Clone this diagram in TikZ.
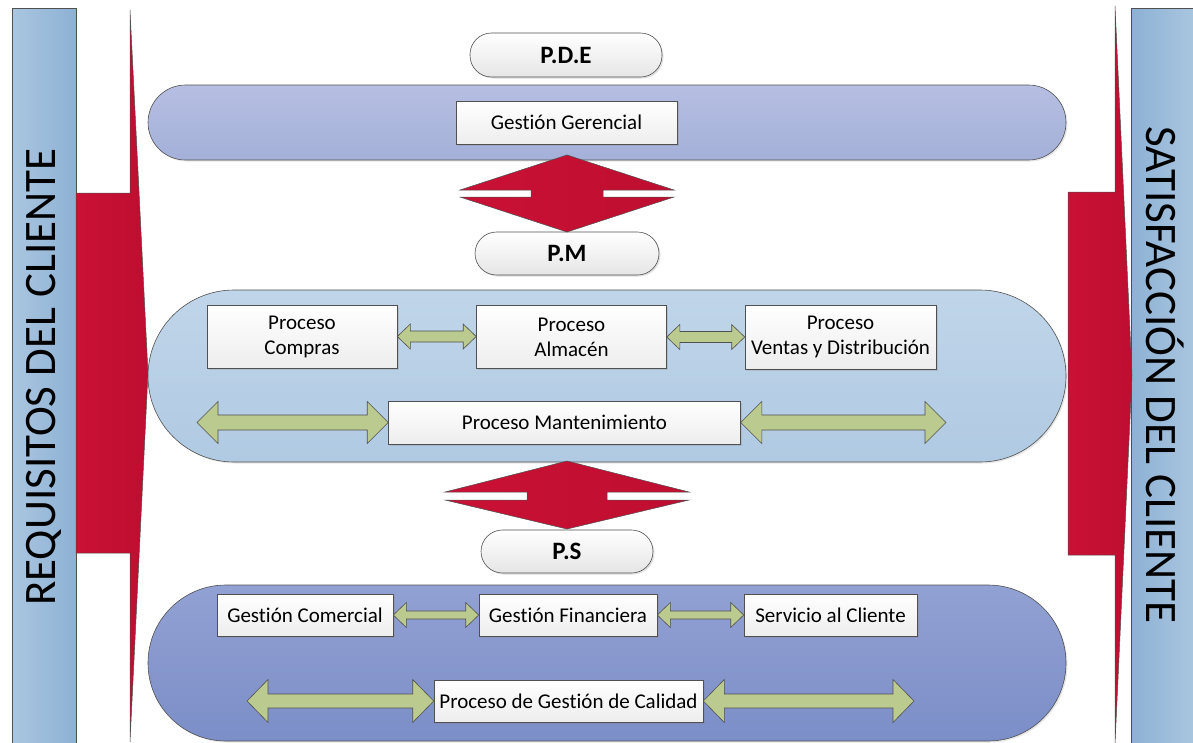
\documentclass[tikz,border=0pt]{standalone}
\usepackage{fontspec}
\setmainfont[Ligatures=NoCommon]{Carlito}
\usetikzlibrary{shadows,calc}
\definecolor{crim}{RGB}{201,17,53}
\definecolor{crimd}{RGB}{190,14,48}
\definecolor{edge}{RGB}{80,80,80}
\definecolor{gfill}{RGB}{187,202,143}
\definecolor{bandAt}{RGB}{182,191,226}
\definecolor{bandAb}{RGB}{164,176,217}
\definecolor{bandBt}{RGB}{192,213,233}
\definecolor{bandBb}{RGB}{176,202,227}
\definecolor{bandCt}{RGB}{146,161,211}
\definecolor{bandCb}{RGB}{124,142,200}
\definecolor{sideL}{RGB}{170,198,224}
\definecolor{sideD}{RGB}{141,177,212}
\newcommand{\garrow}[5]{%
  \draw[garr] let \p1=(#1), \p2=(#2) in
   (\x1,\y1) -- (\x1+#3,\y1+#4) -- (\x1+#3,\y1+#5) -- (\x2-#3,\y1+#5) -- (\x2-#3,\y1+#4) -- (\x2,\y1)
   -- (\x2-#3,\y1-#4) -- (\x2-#3,\y1-#5) -- (\x1+#3,\y1-#5) -- (\x1+#3,\y1-#4) -- cycle;}
\newcommand{\redud}[6]{% center, half width, slot inner, half gap, top height, bottom height
  \begin{scope}[shift={(#1)}]
  \draw[redarr] (0,-#5) -- (#2,-#4) -- (#3,-#4) -- (#3,#4) -- (#2,#4) -- (0,#6)
     -- (-#2,#4) -- (-#3,#4) -- (-#3,-#4) -- (-#2,-#4) -- cycle;
  \end{scope}}
\tikzset{
  boxn/.style={draw=edge, line width=0.6pt, top color=white, bottom color=black!7,
    drop shadow={shadow xshift=1.5pt, shadow yshift=-1.5pt, opacity=0.25},
    inner sep=2pt, align=center, font=\fontsize{21}{25}\selectfont, text=black},
  pill/.style={draw=edge, line width=0.6pt, top color=white, bottom color=black!10,
    rounded corners=21.5pt, font=\bfseries\fontsize{25}{28}\selectfont,
    drop shadow={shadow xshift=1.5pt, shadow yshift=-1.5pt, opacity=0.25}},
  band/.style={draw=edge, line width=0.6pt,
    drop shadow={shadow xshift=1.5pt, shadow yshift=-1.5pt, opacity=0.2}},
  garr/.style={draw=edge, line width=0.6pt, fill=gfill},
  redarr/.style={draw=edge, line width=0.5pt, left color=crim, right color=crimd},
  sidebar/.style={draw=edge, line width=0.5pt},
  sidetxt/.style={font=\fontsize{45}{50}\selectfont, text=black}
}
\begin{document}
\begin{tikzpicture}[x=1pt,y=-1pt]
\useasboundingbox (0,0) rectangle (1193,742);
% side bars
\draw[sidebar, left color=sideL, right color=sideD] (12,8) rectangle (76,745);
\draw[sidebar, left color=sideD, right color=sideL] (1131,8) rectangle (1196,745);
\node[sidetxt, rotate=90] (req) at (44,377) {REQUISITOS DEL CLIENTE};
\node[sidetxt, rotate=-90] (sat) at (1165,375) {SATISFACCIÓN DEL CLIENTE};
% big red side arrows
\draw[redarr] (76,193) -- (130,193) -- (130,10) -- (148,373) -- (130,742) -- (130,553) -- (76,553) -- cycle;
\draw[redarr] (1068,192) -- (1115,192) -- (1115,6) -- (1132,375) -- (1115,744) -- (1115,555) -- (1068,555) -- cycle;
% bands
\draw[band, top color=bandAt, bottom color=bandAb, rounded corners=37.5pt] (148,85) rectangle (1066,160);
\draw[band, top color=bandBt, bottom color=bandBb, rounded corners=86pt] (148,290) rectangle (1066,462);
\draw[band, top color=bandCt, bottom color=bandCb, rounded corners=78pt] (148,585) rectangle (1066,741);
% pills
\node[pill, minimum width=192pt, minimum height=44pt] (pde) at (566,55) {P.D.E};
\node[pill, minimum width=184pt, minimum height=43pt] (pm) at (567,253.5) {P.M};
\node[pill, minimum width=172pt, minimum height=43pt] (ps) at (567,551.5) {P.S};
% red up-down arrows
\redud{567,193.5}{107}{36}{3.5}{38.5}{38.5}
\redud{567,496}{122}{40}{4}{35}{33}
% boxes
\node[boxn, minimum width=221pt, minimum height=43pt] (gg) at (566.5,122.5) {Gestión Gerencial};
\node[boxn, minimum width=190pt, minimum height=63pt] (compras) at (302,336.5) {Proceso\\Compras};
\node[boxn, minimum width=190pt, minimum height=63pt] (almacen) at (571.5,337) {Proceso\\Almacén};
\node[boxn, minimum width=191pt, minimum height=64pt] (ventas) at (840.5,337) {Proceso\\Ventas y Distribución};
\node[boxn, minimum width=352pt, minimum height=43pt] (mant) at (564.5,422.5) {Proceso Mantenimiento};
\node[boxn, minimum width=176pt, minimum height=42pt] (comer) at (305,615) {Gestión Comercial};
\node[boxn, minimum width=178pt, minimum height=42pt] (finan) at (568,615) {Gestión Financiera};
\node[boxn, minimum width=173pt, minimum height=42pt] (serv) at (830.5,615) {Servicio al Cliente};
\node[boxn, minimum width=269pt, minimum height=42pt] (cal) at (568.5,701) {Proceso de Gestión de Calidad};
% free ends of big arrows
\coordinate (mL) at (197,422.5);
\coordinate (mR) at (946,422.5);
\coordinate (cL) at (247,701);
\coordinate (cR) at (914,701);
% green arrows
\garrow{compras.east}{almacen.west}{13pt}{12.5pt}{5.5pt}
\garrow{almacen.east}{ventas.west}{13pt}{12.5pt}{5.5pt}
\garrow{comer.east}{finan.west}{13pt}{12.5pt}{4pt}
\garrow{finan.east}{serv.west}{13pt}{12.5pt}{4pt}
\garrow{mL}{mant.west}{21pt}{21pt}{7.5pt}
\garrow{mant.east}{mR}{21pt}{21pt}{7.5pt}
\garrow{cL}{cal.west}{21pt}{21.5pt}{7pt}
\garrow{cal.east}{cR}{21pt}{21.5pt}{7pt}
\end{tikzpicture}
\end{document}
